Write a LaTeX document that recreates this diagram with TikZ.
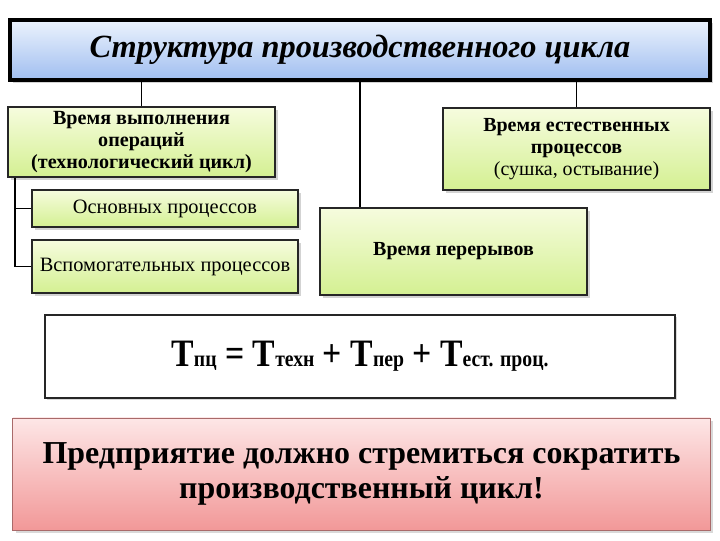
\documentclass[tikz,border=0pt]{standalone}
\usepackage{fontspec}
\setmainfont{Liberation Serif}
\usetikzlibrary{shadows}

\definecolor{grtop}{RGB}{246,252,222}
\definecolor{grbot}{RGB}{212,240,146}
\definecolor{bltop}{RGB}{236,243,253}
\definecolor{blbot}{RGB}{160,190,240}
\definecolor{rdtop}{RGB}{253,230,230}
\definecolor{rdbot}{RGB}{242,152,152}

\begin{document}
\begin{tikzpicture}[x=0.025cm, y=-0.025cm,
		greenbox/.style={draw=black!85, line width=1.3pt, top color=grtop, bottom color=grbot,
			minimum width=6.675cm, align=center, inner sep=2pt,
			drop shadow={shadow xshift=2pt, shadow yshift=-2pt, opacity=0.35}},
		link/.style={line width=1.1pt}]
		\useasboundingbox (0,0) rectangle (720,540);
		% title
		\node[draw, line width=2.6pt, top color=bltop, bottom color=blbot,
			minimum width=17.5cm, minimum height=1.5cm,
			font=\fontsize{23}{28}\selectfont\bfseries\itshape,
			drop shadow={shadow xshift=2pt, shadow yshift=-2pt, opacity=0.35}]
			(title) at (360,50) {Структура производственного цикла};
		% boxes
		\node[greenbox, minimum height=1.75cm, font=\fontsize{14.3}{15.5}\selectfont\bfseries] (tech) at (141.5,142)
			{Время выполнения\\ операций\\ (технологический цикл)};
		\node[greenbox, minimum width=6.65cm, minimum height=0.925cm, font=\fontsize{14.5}{16}\selectfont] (main) at (165,208.5)
			{Основных процессов};
		\node[greenbox, minimum width=6.65cm, minimum height=1.325cm, font=\fontsize{14.5}{16}\selectfont] (aux) at (165,266.5)
			{Вспомогательных процессов};
		\node[greenbox, minimum height=2.175cm, font=\fontsize{14.2}{15.5}\selectfont\bfseries] (brk) at (453.5,251.5)
			{Время перерывов};
		\node[greenbox, minimum height=2.05cm, font=\fontsize{14.2}{15.6}\selectfont\bfseries] (nat) at (576.5,149)
			{Время естественных\\ процессов\\ \mdseries(сушка, остывание)};
		% links
		\coordinate (mid) at (360,0);
		\coordinate (side) at (15,0);
		\draw[link] (title.south -| tech.north) -- (tech.north);
		\draw[link] (title.south -| mid) -- (brk.north -| mid);
		\draw[link] (title.south -| nat.north) -- (nat.north);
		\draw[link] (tech.south -| side) |- (main.west);
		\draw[link] (tech.south -| side) |- (aux.west);
		% formula
		\node[draw=black!85, line width=1.2pt, fill=white, minimum width=15.75cm, minimum height=2.075cm,
			font=\fontsize{24}{28}\selectfont\bfseries,
			drop shadow={shadow xshift=1.5pt, shadow yshift=-1.5pt, opacity=0.3}]
			(formula) at (360,356.5) {\scalebox{1}[1.15]{Т{\fontsize{14}{16}\selectfont пц} = Т{\fontsize{14}{16}\selectfont техн} + Т{\fontsize{14}{16}\selectfont пер} + Т{\fontsize{14}{16}\selectfont ест. проц.}}};
		% conclusion
		\node[draw=rdbot!70!black, line width=0.6pt, top color=rdtop, bottom color=rdbot,
			minimum width=17.425cm, minimum height=2.8cm, align=center,
			font=\fontsize{22.7}{25}\selectfont\bfseries,
			drop shadow={shadow xshift=2pt, shadow yshift=-2pt, opacity=0.3}]
			(goal) at (361.5,474) {Предприятие должно стремиться сократить\\ производственный цикл!};
	\end{tikzpicture}
\end{document}
